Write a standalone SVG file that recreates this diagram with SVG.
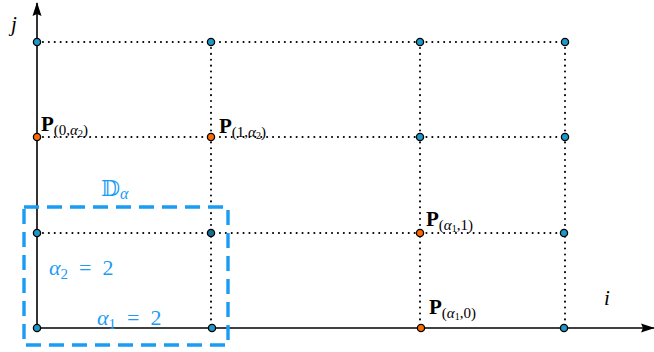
<svg xmlns="http://www.w3.org/2000/svg" width="654" height="352" viewBox="0 0 654 352">
<style>
.dot{stroke:#000;stroke-width:2;stroke-dasharray:0.1 5.8;stroke-linecap:round;fill:none}
.axis{stroke:#000;stroke-width:1.6;fill:none}
.b{fill:#1b9ac9;stroke:#000;stroke-width:1.3}
.o{fill:#ff6a00;stroke:#000;stroke-width:1.3}
.P{font-family:"Liberation Serif","DejaVu Serif",serif;font-weight:bold;font-size:21px;fill:#000}
.s{font-family:"Liberation Serif","DejaVu Serif",serif;font-weight:normal;font-size:15px;fill:#000}
.m{font-family:"Liberation Serif","DejaVu Serif",serif;font-size:22px;fill:#1a9cf5}
.ital{font-style:italic}
</style>
<defs>
<marker id="ah" markerWidth="14" markerHeight="10" refX="13" refY="5" orient="auto" markerUnits="userSpaceOnUse">
<path d="M0,0.5 L14,5 L0,9.5 L2,5 Z" fill="#000"/>
</marker>
</defs>
<g id="connectors">
<line class="dot" x1="37" y1="42" x2="565" y2="42"/>
<line class="dot" x1="37" y1="137" x2="565" y2="137"/>
<line class="dot" x1="37" y1="233" x2="565" y2="233"/>
<line class="dot" x1="211" y1="42" x2="211" y2="328"/>
<line class="dot" x1="420" y1="42" x2="420" y2="328"/>
<line class="dot" x1="565" y1="42" x2="565" y2="328"/>
<line class="axis" x1="37" y1="328" x2="37" y2="3" marker-end="url(#ah)"/>
<line class="axis" x1="37" y1="328" x2="654" y2="328" marker-end="url(#ah)"/>
</g>
<g id="domain">
<rect x="24" y="207" width="204" height="138" fill="none" stroke="#1a9cf5" stroke-width="3.4" stroke-dasharray="15 8"/>
<text class="m" x="101" y="196">𝔻<tspan class="ital" font-size="16" dy="3">α</tspan></text>
<text class="m" x="49" y="275"><tspan class="ital">α</tspan><tspan font-size="15" dy="4">2</tspan><tspan dy="-4" xml:space="preserve">  =  2</tspan></text>
<text class="m" x="97" y="325"><tspan class="ital">α</tspan><tspan font-size="15" dy="4">1</tspan><tspan dy="-4" xml:space="preserve">  =  2</tspan></text>
</g>
<g id="axes-labels">
<text x="11" y="31" font-family="Liberation Serif, DejaVu Serif, serif" font-style="italic" font-size="21">j</text>
<text x="604" y="305" font-family="Liberation Serif, DejaVu Serif, serif" font-style="italic" font-size="21">i</text>
</g>
<g id="nodes">
<circle class="b" cx="37" cy="42" r="3.6"/>
<circle class="b" cx="211" cy="42" r="3.6"/>
<circle class="b" cx="420" cy="42" r="3.6"/>
<circle class="b" cx="565" cy="42" r="3.6"/>
<circle class="o" cx="37" cy="137" r="3.6"/>
<circle class="o" cx="211" cy="137" r="3.6"/>
<circle class="b" cx="420" cy="137" r="3.6"/>
<circle class="b" cx="565" cy="137" r="3.6"/>
<circle class="b" cx="37" cy="233" r="3.6"/>
<circle cx="211" cy="233" r="3.6" fill="#146f93" stroke="#000" stroke-width="1.3"/>
<circle class="o" cx="420" cy="233" r="3.6"/>
<circle class="b" cx="564" cy="233" r="3.6"/>
<circle class="b" cx="37" cy="328" r="3.6"/>
<circle class="b" cx="212" cy="328" r="3.6"/>
<circle class="o" cx="421" cy="328" r="3.6"/>
<circle class="b" cx="564" cy="328" r="3.6"/>
</g>
<g id="labels">
<text class="P" x="41" y="131">P<tspan class="s" dy="4">(0,<tspan class="ital">α</tspan><tspan font-size="10" dy="2">2</tspan><tspan dy="-2">)</tspan></tspan></text>
<text class="P" x="219" y="133">P<tspan class="s" dy="4">(1,<tspan class="ital">α</tspan><tspan font-size="10" dy="2">2</tspan><tspan dy="-2">)</tspan></tspan></text>
<text class="P" x="426" y="226">P<tspan class="s" dy="4">(<tspan class="ital">α</tspan><tspan font-size="10" dy="2">1</tspan><tspan dy="-2">,1)</tspan></tspan></text>
<text class="P" x="429" y="314">P<tspan class="s" dy="4">(<tspan class="ital">α</tspan><tspan font-size="10" dy="2">1</tspan><tspan dy="-2">,0)</tspan></tspan></text>
</g>
</svg>
